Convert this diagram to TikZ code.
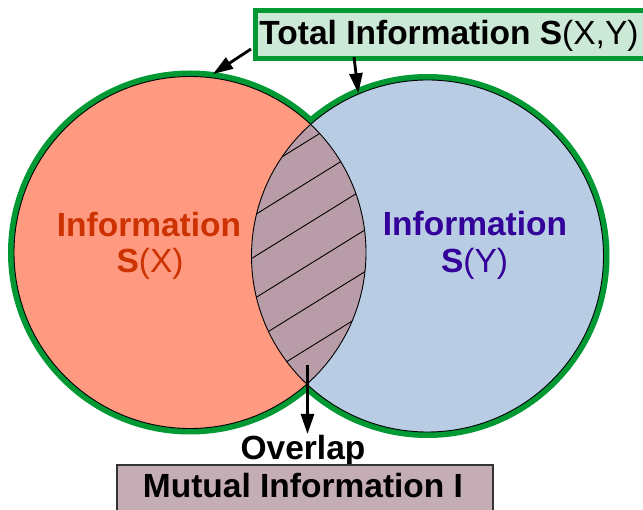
\documentclass[tikz,border=0pt]{standalone}
\usepackage{fontspec}
\setmainfont{Liberation Sans}
\usetikzlibrary{arrows.meta}
\definecolor{grn}{HTML}{009933}
\definecolor{redfill}{HTML}{FF9980}
\definecolor{bluefill}{HTML}{B8CCE4}
\definecolor{lensfill}{HTML}{B89CA8}
\definecolor{redtxt}{HTML}{CC3300}
\definecolor{bluetxt}{HTML}{330099}
\definecolor{topfill}{HTML}{CCE8D6}
\definecolor{botfill}{HTML}{C4ADB5}
\definecolor{botbord}{HTML}{333333}
\begin{document}
\begin{tikzpicture}[x=1pt,y=-1pt,
  big/.style={font=\fontsize{33.5}{36}\selectfont, inner sep=0pt, anchor=base},
  arr/.style={line width=2.8pt, -{Triangle[length=20pt,width=13pt]}},
  hatch/.style={line width=0.9pt},
]
\useasboundingbox (0,0) rectangle (643,510);
\clip (0,0) rectangle (643,510);
\coordinate (cR) at (190,252.5);
\coordinate (cB) at (427.5,256);
% green outline of the union
\draw[grn, line width=12pt] (cR) circle[radius=176pt] (cB) circle[radius=176pt];
\fill[redfill] (cR) circle[radius=176pt];
\fill[bluefill] (cB) circle[radius=176pt];
% overlap
\begin{scope}
  \clip (cR) circle[radius=176pt];
  \fill[lensfill] (cB) circle[radius=176pt];
  \clip (cB) circle[radius=176pt];
  \foreach \yy in {141.5,182.7,224.3,266,307.7,349.2}
    \draw[hatch] (240,{\yy+41.4}) -- (380,{\yy-45.4});
\end{scope}
\draw[line width=0.9pt] (cR) circle[radius=176pt] (cB) circle[radius=176pt];
% circle texts
\node[big, text=redtxt] (rinfo) at (149,236.7) {\textbf{Information}};
\node[big, text=redtxt] (rs) at (150,273) {\textbf{S}(X)};
\node[big, text=bluetxt] (binfo) at (475,235.7) {\textbf{Information}};
\node[big, text=bluetxt] (bs) at (474.5,273) {\textbf{S}(Y)};
% top label
\node[draw=grn, fill=topfill, line width=5pt, minimum width=420pt, minimum height=48.5pt,
      anchor=west, inner sep=0pt] (topbox) at (253,34.75) {};
\node[big] (toptext) at (449,45) {\textbf{Total Information S}(X,Y)};
\coordinate (a1s) at (251,49);
\coordinate (a1e) at (213,74);
\coordinate (a2s) at (354,57);
\coordinate (a2e) at (358.3,93.3);
\draw[arr] (a1s) -- (a1e);
\draw[arr] (a2s) -- (a2e);
% bottom
\coordinate (a3s) at (307.5,365);
\coordinate (a3e) at (307.5,434);
\draw[arr] (a3s) -- (a3e);
\node[big] (overlap) at (303,460) {\textbf{Overlap}};
\node[draw=botbord, fill=botfill, line width=2pt, minimum width=376pt, minimum height=60pt,
      anchor=north west, inner sep=0pt] (botbox) at (116,464) {};
\node[big] (mutual) at (303,498) {\textbf{Mutual Information I}};
\end{tikzpicture}
\end{document}
